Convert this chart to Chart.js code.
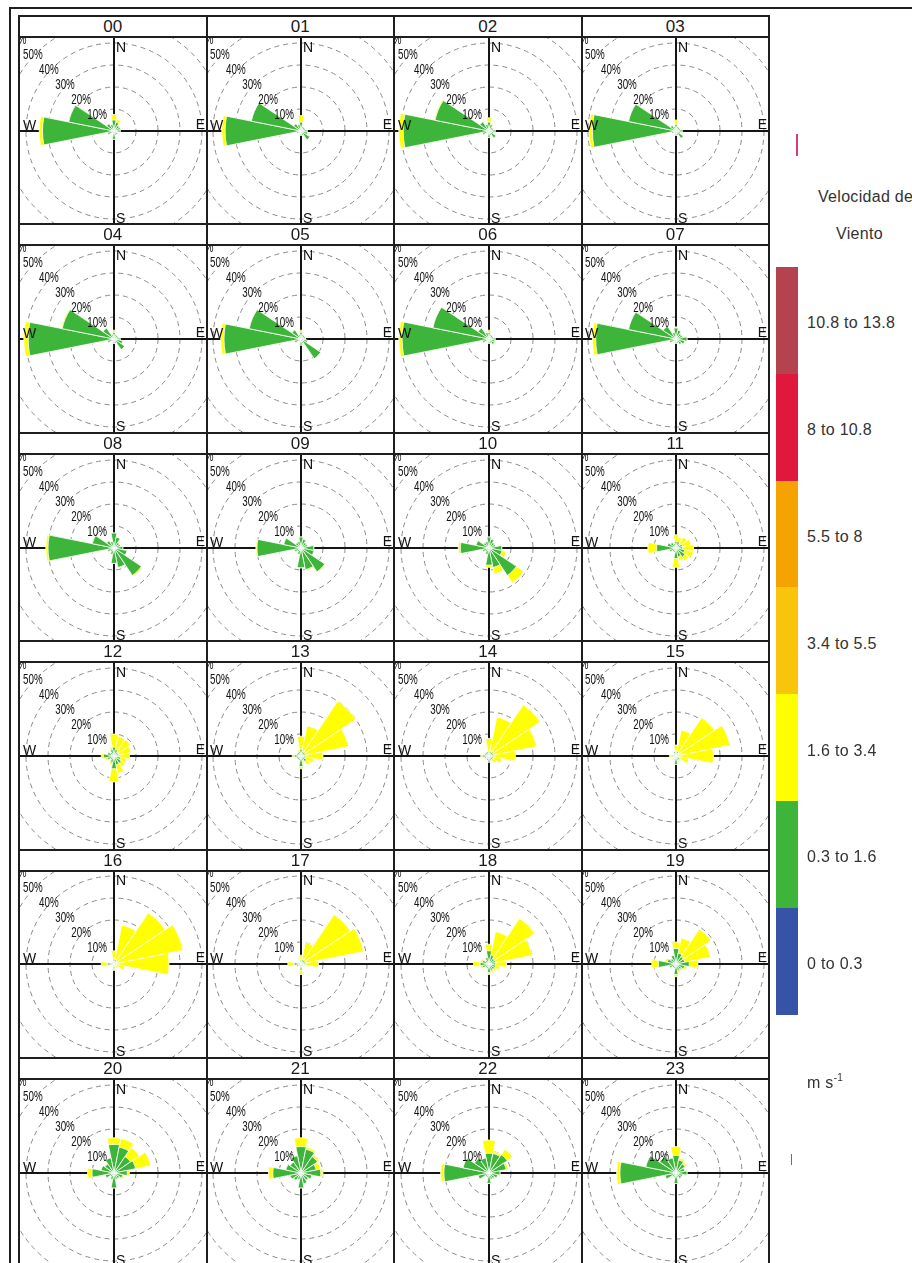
<!DOCTYPE html>
<html>
<head>
<meta charset="utf-8">
<title>Rosas de viento por hora</title>
<script src="https://cdn.jsdelivr.net/npm/chart.js@4.4.1/dist/chart.umd.min.js"></script>
<style>
  body { margin: 0; width: 912px; height: 1263px; overflow: hidden; position: relative; background: #fff;
         font-family: "Liberation Sans", Arial, sans-serif; color: #222; }
  .line { position: absolute; background: #1e1e1e; z-index: 3; }
  .title { position: absolute; text-align: center; font-size: 17px; line-height: 22px; color: #1a1a1a; }
  .plot { position: absolute; overflow: hidden; }
  .plot canvas { position: absolute; }
  .legend-box { position: absolute; left: 776px; width: 22px; }
  .legend-label { position: absolute; left: 807px; font-size: 16px; letter-spacing: 0.3px; color: #333; transform: translateY(-50%); white-space: nowrap; }
  .legend-title { position: absolute; font-size: 16px; letter-spacing: 0.3px; color: #333; white-space: nowrap; transform: translateY(-50%); }
</style>
</head>
<body>
<script>
// hours of the day, one rose per hour
var hours = ['00','01','02','03','04','05','06','07','08','09','10','11',
             '12','13','14','15','16','17','18','19','20','21','22','23'];

var directions = ['N','NNE','NE','ENE','E','ESE','SE','SSE','S','SSW','SW','WSW','W','WNW','NW','NNW'];

// frequency (%) per direction, one row per hour
var speed0to03 = [
  [0,0,0,0,0.8,0,0,0,0.8,0,0,0,0,0,0,0],
  [0,0,0,0,0.8,0,0.8,0,0,0,0,0,0,0,0,0],
  [0,0,0,0,0.8,0,0.8,0,0,0,0,0,0,0,0,0],
  [0,0,0,0,0.8,0,0,0,0,0,0,0,0,0,0,0],
  [0,0,0,0,0.8,0,0.8,0,0,0,0,0,0,0,0,0],
  [0,0,0,0,0,0,0.8,0,0.8,0,0,0,0,0,0,0],
  [0,0,0,0,0.8,0.8,0,0,0,0,0,0,0,0,0,0],
  [0,0,0,0,1,1,0,0,0,0,0,0,0,0,0,0],
  [0.8,0,0,0,0,0,0,0,0,0,0,0,0,0,0,0],
  [0,0,0,0,0.8,0,0,0,0,0,0,0,0,0,0,0],
  [0,0,0,0,0.8,0,0,0,0.8,0,0,0,0,0,0,0],
  [0,0,0,0,0,0,0,0,0.8,0,0,0,0.8,0,0,0],
  [0,0,0,0,0,0,0,0,0.8,0,0,0,0.8,0,0,0],
  [0,0,0,0,0,0,0,0,0.8,0,0,0,0,0,0,0],
  [0,0,0,0,0,0,0,0,0.8,0,0,0,0.8,0,0,0],
  [0,0,0,0,0,0,0,0,0.8,0,0,0,0,0,0,0],
  [0,0,0,0,0,0,0,0,0,0,0,0,0.8,0,0,0],
  [0,0,0,0,0,0,0,0,0.8,0,0,0,0,0,0,0],
  [0,0,0,0,0,0,0,0,0.8,0,0,0,0,0,0,0],
  [0,0,0,0,0,0,0,0,0.8,0,0,0,0,0,0,0],
  [0,0,0,0,0,0,0,0,0.8,0,0,0,0,0,0,0],
  [0,0,0,0,0,0,0,0,0.8,0,0,0,0.8,0,0,0],
  [0,0,0,0,0,0,0,0,0.8,0,0,0,0,0,0,0],
  [0,0,0,0,0,0,0,0,0.8,0,0,0,0,0,0,0]
];

var speed03to16 = [
  [5,4,3,3,2,1.5,2,2,3,1,1,3,32.5,21,4,3],
  [4,2,2,2,2,3,4,2,2,1,1,2,34.5,23,4,3],
  [4,3,2,2,2,2,3,2,3,1,1,3,39,25,5,3],
  [3,2,2,2,2,2,4,2,2,1,1,2,38,22,3,2],
  [3,2,2,2,2,4,5,2,2,1,1,3,39,24,6,2],
  [3,2,2,2,2,3,10,2,2,1,1,3,35,24,5,2],
  [3,2,2,2,2,2,3,2,2,1,1,3,39.5,26,6,3],
  [5,4,3,3,4,3,3,2,2,1,1,3,36.5,22,7,3],
  [6,5,3,3,4,6,15,9,7,3,2,3,30,10,4,3],
  [5,4,3,3,5,6,13,10,9,3,2,3,20,8,3,3],
  [5,4,3,3,5,6,15,9,7,3,2,3,13,6,3,3],
  [3,3,2,3,3,4,5,4,4,2,2,3,8,4,3,2],
  [4,3,2,2,2,3,4,4,5,3,2,3,4,3,2,3],
  [3,2,2,2,2,2,3,2,4,2,2,2,3,2,2,2],
  [2,2,2,2,2,2,2,2,2,2,1,2,2,2,2,2],
  [2,2,1,1,1,1,2,2,3,1,1,1,2,1,1,2],
  [2,2,1,1,1,1,1,1,2,1,1,1,2,1,1,1],
  [2,2,2,2,2,1,1,1,2,1,1,2,3,1,1,1],
  [6,4,3,3,3,3,3,3,3,2,2,3,4,3,2,3],
  [7,5,4,4,6,4,3,3,4,2,2,3,8,4,3,4],
  [13,12,9,10,6,4,3,3,6,3,2,4,10,6,5,7],
  [12,11,9,7,9,5,4,5,6,3,4,5,12,7,6,8],
  [9,9,10,8,5,4,3,3,4,2,2,5,20.5,12,8,7],
  [8,6,5,4,5,3,3,2,4,2,2,5,25.5,14,9,7]
];

var speed16to34 = [
  [2.5,1.5,0,0,0,0,0,0,0,0,0,0,1.5,0,0,0],
  [3,0.5,0,0,0,0,0,0,0,0,0,0,1.5,0,0,0],
  [2,0.5,0,0,0,0,0,0,0,0,0,0,2,0.5,0,0],
  [2,0,0,0,0,0,0,0,0,0,0,0,1.5,0,0,0],
  [1,0,0,0,0,0,0,0,0,0,0,0,2,0.5,0,0],
  [1,0,0,0,0,0,0,0,0,0,0,0,1.5,0,0,0],
  [1,0,0,0,0,0,0,0,0,0,0,0,1.5,0,0,0],
  [0.5,0,0,0,0,0,0,0,0,0,0,0,1.5,0,0,0],
  [0,0,0,0,0,0,0.5,0,0,0,0,0,1,0,0,0],
  [0,0,0,0,0,0,0.5,0.5,0,0,0,0,0.5,0,0,0],
  [0,0,0,0,0,2,4,3,1,0,0,0,1,0,0,0],
  [3,2,4,4,5,4,2,2,4,0,0,0,4,0,0,0],
  [6,6,7,6,5,3,2,4,6,1,0,1,1,0,0,1],
  [6,12,28,20,8,4,2,1,1,0,0,0,1,0,0,1],
  [6,16,26,20,10,4,2,0,0,0,0,0,1,0,0,0],
  [3,10,20,24,16,5,1,0,0,0,0,0,1,0,0,0],
  [4,16,27,31,24,4,1,0,1,0,0,0,3,0,0,0],
  [2,8,25,27,6,1,0,0,2,0,0,0,3,0,0,0],
  [3,11,22,17,5,2,1,1,1,0,0,1,3,1,0,0],
  [3,7,15,12,4,1,1,1,1,0,0,0,3,1,0,0],
  [3,4,5,7,1,1,0,0,0,0,0,0,2,0,0,0],
  [4,1,1,2,1,0,0,0,0,0,0,0,2,0,0,0],
  [6,1,3,1,0,0,0,0,0,0,0,0,1.5,0,0,0],
  [4,1,1,0,0,0,0,0,0,0,0,0,1.5,0,0,0]
];

var ringTicks = [10, 20, 30, 40, 50, 60];
var compassLetters = ['N', 'E', 'S', 'W'];

// legend, top to bottom
var speedBins = ['10.8 to 13.8', '8 to 10.8', '5.5 to 8', '3.4 to 5.5', '1.6 to 3.4', '0.3 to 1.6', '0 to 0.3'];
var binColors = ['#b5434f', '#e1183d', '#f5a300', '#f9c40c', '#ffff00', '#3db43a', '#3653a8'];

var gridLeft = 19, colW = 187.5, gridTop = 16, rowH = 208.4, titleH = 21;
var canvasSize = 264;

var addDiv = function (cls, css, text) {
    var d = document.createElement('div');
    d.className = cls;
    for (var k in css) d.style[k] = css[k];
    if (text !== undefined) d.textContent = text;
    document.body.appendChild(d);
    return d;
};

var roseDecor = {
    id: 'roseDecor',
    beforeDatasetsDraw: function (chart) {
        var r = chart.scales.r, ctx = chart.ctx;
        ctx.save();
        ctx.strokeStyle = '#151515';
        ctx.lineWidth = 2;
        ctx.beginPath();
        ctx.moveTo(r.xCenter, r.yCenter - r.drawingArea);
        ctx.lineTo(r.xCenter, r.yCenter + r.drawingArea);
        ctx.moveTo(r.xCenter - r.drawingArea, r.yCenter);
        ctx.lineTo(r.xCenter + r.drawingArea, r.yCenter);
        ctx.stroke();
        ctx.restore();
    },
    afterDatasetsDraw: function (chart) {
        var r = chart.scales.r, ctx = chart.ctx;
        var xc = r.xCenter, yc = r.yCenter;
        var ang = 43 * Math.PI / 180;
        ctx.save();
        ctx.fillStyle = '#111';
        ctx.textAlign = 'center';
        ctx.textBaseline = 'middle';
        ctx.font = '14px "Liberation Sans", Arial, sans-serif';
        for (var i = 0; i < ringTicks.length; i++) {
            var d = r.getDistanceFromCenterForValue(ringTicks[i]) + 1;
            ctx.save();
            ctx.translate(xc - d * Math.cos(ang), yc - d * Math.sin(ang));
            ctx.scale(0.7, 1);
            ctx.fillText(ringTicks[i] + '%', 0, 0);
            ctx.restore();
        }
        ctx.font = '14px "Liberation Sans", Arial, sans-serif';
        ctx.textAlign = 'left'; ctx.textBaseline = 'top';
        ctx.fillText(compassLetters[0], xc + 2, yc - 90);
        ctx.fillText(compassLetters[2], xc + 2, yc + 81);
        ctx.textBaseline = 'alphabetic';
        ctx.fillText(compassLetters[3], xc - 91, yc - 1);
        ctx.textAlign = 'right';
        ctx.fillText(compassLetters[1], xc + 91, yc - 2);
        ctx.restore();
    }
};

var drawRose = function (h, container) {
    var blue = speed0to03[h], green = [], yellow = [];
    for (var i = 0; i < directions.length; i++) {
        green.push(blue[i] + speed03to16[h][i]);
        yellow.push(green[i] + speed16to34[h][i]);
    }
    var canvas = document.createElement('canvas');
    canvas.width = canvasSize; canvas.height = canvasSize;
    canvas.style.width = canvasSize + 'px';
    canvas.style.height = canvasSize + 'px';
    canvas.style.left = ((colW - canvasSize) / 2 + 1) + 'px';
    canvas.style.top = ((rowH - titleH - canvasSize) / 2) + 'px';
    container.appendChild(canvas);

    return new Chart(canvas, {
        type: 'polarArea',
        data: {
            labels: directions,
            datasets: [
                { label: speedBins[6], data: blue, backgroundColor: binColors[6] },
                { label: speedBins[5], data: green, backgroundColor: binColors[5] },
                { label: speedBins[4], data: yellow, backgroundColor: binColors[4] }
            ]
        },
        options: {
            responsive: false,
            animation: false,
            layout: { padding: 0 },
            elements: { arc: { borderColor: '#ffffff', borderWidth: 0.8 } },
            plugins: { legend: { display: false }, tooltip: { enabled: false } },
            scales: {
                r: {
                    min: 0, max: 60,
                    startAngle: -11.25,
                    ticks: { display: false, stepSize: 10 },
                    grid: { circular: true, color: '#8a8a8a', lineWidth: 1 },
                    border: { dash: [5, 4] },
                    angleLines: { display: false },
                    pointLabels: { display: false }
                }
            }
        },
        plugins: [roseDecor]
    });
};

// outer frame
addDiv('line', { left: '9px', top: '7px', width: '903px', height: '2px' });
addDiv('line', { left: '9px', top: '7px', width: '2px', height: '1256px' });

for (var h = 0; h < hours.length; h++) {
    var col = h % 4, row = Math.floor(h / 4);
    var x0 = gridLeft + colW * col, y0 = gridTop + rowH * row;
    addDiv('title', { left: x0 + 'px', top: y0 + 'px', width: colW + 'px', height: titleH + 'px' }, hours[h]);
    var plot = addDiv('plot', { left: x0 + 'px', top: (y0 + titleH) + 'px', width: colW + 'px', height: (rowH - titleH) + 'px' });
    drawRose(h, plot);
}

// panel grid lines
for (var c = 0; c <= 4; c++) {
    addDiv('line', { left: (gridLeft + colW * c - 1) + 'px', top: gridTop + 'px', width: '2px', height: (1263 - gridTop) + 'px' });
}
for (var r = 0; r < 6; r++) {
    var yt = gridTop + rowH * r;
    addDiv('line', { left: (gridLeft - 1) + 'px', top: (yt - 1) + 'px', width: (colW * 4 + 2) + 'px', height: '2px' });
    addDiv('line', { left: (gridLeft - 1) + 'px', top: (yt + titleH - 1) + 'px', width: (colW * 4 + 2) + 'px', height: '2px' });
}

// legend
var legTop = 267, segH = 106.8;
for (var s = 0; s < speedBins.length; s++) {
    addDiv('legend-box', { top: (legTop + segH * s) + 'px', height: (segH + 0.5) + 'px', background: binColors[s] });
    addDiv('legend-label', { top: (legTop + segH * s + segH / 2 + 3) + 'px' }, speedBins[s]);
}
addDiv('legend-title', { left: '818px', top: '197px' }, 'Velocidad de');
addDiv('legend-title', { left: '836px', top: '234px' }, 'Viento');
var unit = addDiv('legend-title', { left: '807px', top: '1082px' }, 'm s');
var sup = document.createElement('sup');
sup.textContent = '-1';
sup.style.fontSize = '10px';
unit.appendChild(sup);

// small marks on the scanned sheet
addDiv('line', { left: '796px', top: '134px', width: '2px', height: '22px', background: '#d2407c' });
addDiv('line', { left: '791px', top: '1154px', width: '1px', height: '11px', background: '#d2407c' });
</script>
</body>
</html>
